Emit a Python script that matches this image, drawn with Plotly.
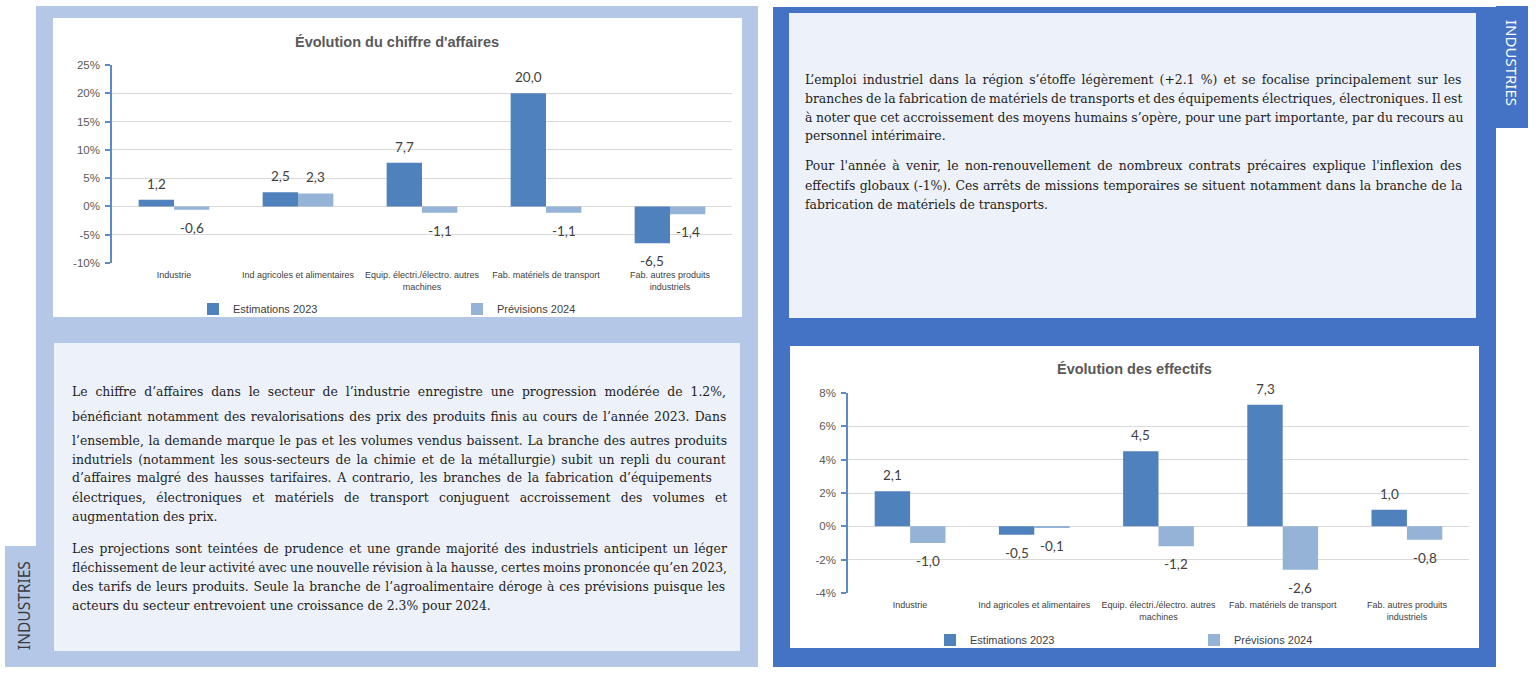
import plotly.graph_objects as go

W, H = 1536, 674

# ---------------- data ----------------
categories = [
    "Industrie",
    "Ind agricoles et alimentaires",
    "Equip. électri./électro. autres<br>machines",
    "Fab. matériels de transport",
    "Fab. autres produits<br>industriels",
]
series_names = ["Estimations 2023", "Prévisions 2024"]

ca_est_2023 = [1.2, 2.5, 7.7, 20.0, -6.5]
ca_prev_2024 = [-0.6, 2.3, -1.1, -1.1, -1.4]

eff_est_2023 = [2.1, -0.5, 4.5, 7.3, 1.0]
eff_prev_2024 = [-1.0, -0.1, -1.2, -2.6, -0.8]

ca_ticks = [-10, -5, 0, 5, 10, 15, 20, 25]
eff_ticks = [-4, -2, 0, 2, 4, 6, 8]

title_ca = "Évolution du chiffre d'affaires"
title_eff = "Évolution des effectifs"
side_label = "INDUSTRIES"

left_para1 = [
    "Le chiffre d’affaires dans le secteur de l’industrie enregistre une progression modérée de 1.2%,",
    "bénéficiant notamment des revalorisations des prix des produits finis au cours de l’année 2023. Dans",
    "l’ensemble, la demande marque le pas et les volumes vendus baissent. La branche des autres produits",
    "indutriels (notamment les sous-secteurs de la chimie et de la métallurgie) subit un repli du courant",
    "d’affaires malgré des hausses tarifaires. A contrario, les branches de la fabrication d’équipements",
    "électriques, électroniques et matériels de transport conjuguent accroissement des volumes et",
    "augmentation des prix.",
]
left_para2 = [
    "Les projections sont teintées de prudence et une grande majorité des industriels anticipent un léger",
    "fléchissement de leur activité avec une nouvelle révision à la hausse, certes moins prononcée qu’en 2023,",
    "des tarifs de leurs produits. Seule la branche de l’agroalimentaire déroge à ces prévisions puisque les",
    "acteurs du secteur entrevoient une croissance de 2.3% pour 2024.",
]
right_para1 = [
    "L’emploi industriel dans la région s’étoffe légèrement (+2.1 %) et se focalise principalement sur les",
    "branches de la fabrication de matériels de transports et des équipements électriques, électroniques. Il est",
    "à noter que cet accroissement des moyens humains s’opère, pour une part importante, par du recours au",
    "personnel intérimaire.",
]
right_para2 = [
    "Pour l'année à venir, le non-renouvellement de nombreux contrats précaires explique l'inflexion des",
    "effectifs globaux (-1%). Ces arrêts de missions temporaires se situent notamment dans la branche de la",
    "fabrication de matériels de transports.",
]

# ---------------- style ----------------
DARK = "#4f81bd"
LIGHT = "#95b3d7"
AXIS = "#5b8bc3"
GRID = "#d9d9d9"
ARIAL = "Liberation Sans, Arial, sans-serif"
SERIF = "DejaVu Serif, serif"
LABEL_FONT = "Lato, Carlito, sans-serif"
PANEL_LIGHT = "#b4c7e7"
PANEL_DARK = "#4472c4"
TEXTBOX = "#edf1f9"

# word spacing (px) used to justify each paragraph line
ws_left1 = [3.93, 1.21, 0.67, 1.93, 1.83, 6.4, 0]
ws_left2 = [1.64, -0.8, 0.73, 0]
ws_right1 = [2.2, -0.8, -0.3, 0]
ws_right2 = [2.44, 0.4, 0]


def px(x):
    return x / W


def py(y):
    return 1 - y / H


def fmt(v):
    return f"{v:.1f}".replace(".", ",")


fig = go.Figure()

charts = [
    dict(xa="x", ya="y", leg="legend", data=[ca_est_2023, ca_prev_2024]),
    dict(xa="x2", ya="y2", leg="legend2", data=[eff_est_2023, eff_prev_2024]),
]
colors = [DARK, LIGHT]
for ch in charts:
    for name, vals, col in zip(series_names, ch["data"], colors):
        fig.add_trace(go.Bar(
            x=categories, y=vals, name=name, marker_color=col,
            marker_line_width=0, xaxis=ch["xa"], yaxis=ch["ya"],
            legend=ch["leg"], hoverinfo="skip",
        ))

# ---------------- background shapes ----------------
def rect(x0, y0, x1, y1, color):
    return dict(type="rect", xref="paper", yref="paper",
                x0=px(x0), x1=px(x1), y0=py(y1), y1=py(y0),
                fillcolor=color, line_width=0, layer="below")

shapes = [
    rect(36, 6, 758, 667, PANEL_LIGHT),
    rect(5, 546, 37, 667, PANEL_LIGHT),
    rect(53, 18, 742, 317, "white"),
    rect(54, 343, 740, 651, TEXTBOX),
    rect(773, 7, 1496, 667, PANEL_DARK),
    rect(1496, 6, 1528, 128, PANEL_DARK),
    rect(789, 13, 1476, 318, TEXTBOX),
    rect(790, 346, 1479, 648, "white"),
]

annotations = []

# titles
annotations.append(dict(text=f"<b>{title_ca}</b>", xref="paper", yref="paper",
                        x=px(397), y=py(42), showarrow=False, xanchor="center", yanchor="middle",
                        font=dict(family=ARIAL, size=14.5, color="#595959")))
annotations.append(dict(text=f"<b>{title_eff}</b>", xref="paper", yref="paper",
                        x=px(1134), y=py(369), showarrow=False, xanchor="center", yanchor="middle",
                        font=dict(family=ARIAL, size=14.5, color="#595959")))

# data labels
BAR_SHIFT = 17.7
for ch in charts:
    for k, vals in enumerate(ch["data"]):
        for cat, v in zip(categories, vals):
            annotations.append(dict(
                text=fmt(v), x=cat, y=v, xref=ch["xa"], yref=ch["ya"],
                xshift=(-BAR_SHIFT if k == 0 else BAR_SHIFT),
                yshift=(16 if v >= 0 else -18), showarrow=False,
                xanchor="center", yanchor="middle",
                font=dict(family=LABEL_FONT, size=13.5, color="#404040")))

# side labels
annotations.append(dict(text=side_label, xref="paper", yref="paper", x=px(24), y=py(606),
                        textangle=-90, showarrow=False, xanchor="center", yanchor="middle",
                        font=dict(family="Noto Sans, sans-serif", size=15.5, color="#3a3a3a")))
annotations.append(dict(text=side_label, xref="paper", yref="paper", x=px(1512), y=py(63),
                        textangle=90, showarrow=False, xanchor="center", yanchor="middle",
                        font=dict(family="Noto Sans, sans-serif", size=15, color="white")))

# paragraphs
def add_lines(lines, x, ys, spacings):
    for line, y, ws in zip(lines, ys, spacings):
        txt = f'<span style="word-spacing:{ws}px">{line}</span>' if ws else line
        annotations.append(dict(text=txt, xref="paper", yref="paper", x=px(x), y=py(y),
                                showarrow=False, xanchor="left", yanchor="middle",
                                font=dict(family=SERIF, size=12.4, color="#1e1e1e")))

add_lines(left_para1, 70, [391, 416, 440, 459, 478, 497, 516], ws_left1)
add_lines(left_para2, 70, [548 + 19 * i for i in range(len(left_para2))], ws_left2)
add_lines(right_para1, 803, [79 + 19 * i for i in range(len(right_para1))], ws_right1)
add_lines(right_para2, 803, [166 + 19 * i for i in range(len(right_para2))], ws_right2)

# ---------------- axes ----------------
def xaxis(d0, d1, anchor):
    return dict(domain=[px(d0), px(d1)], anchor=anchor, type="category",
                showgrid=False, zeroline=False, showline=False, ticks="",
                ticklabelstandoff=5,
                tickfont=dict(family=ARIAL, size=9, color="#404040"), fixedrange=True)


def yaxis(d_top, d_bot, anchor, rng, ticks):
    return dict(domain=[py(d_bot), py(d_top)], anchor=anchor, range=rng,
                tickvals=ticks, ticktext=[f"{t}%" for t in ticks],
                showgrid=True, gridcolor=GRID, gridwidth=1,
                zeroline=True, zerolinecolor=GRID, zerolinewidth=1,
                showline=True, linecolor=AXIS, linewidth=1.5,
                ticks="outside", ticklen=5, tickcolor=AXIS, tickwidth=1.5,
                ticklabelstandoff=3,
                tickfont=dict(family=ARIAL, size=11.5, color="#595959"), fixedrange=True)


def legend(x, y):
    return dict(orientation="h", x=px(x), y=py(y), xanchor="left", yanchor="middle",
                entrywidth=219, entrywidthmode="pixels", bgcolor="rgba(0,0,0,0)",
                font=dict(family=ARIAL, size=11, color="#404040"),
                itemclick=False, itemdoubleclick=False, traceorder="normal")


fig.update_layout(
    width=W, height=H,
    margin=dict(l=0, r=0, t=0, b=0, autoexpand=False),
    paper_bgcolor="white", plot_bgcolor="rgba(0,0,0,0)",
    barmode="group", bargap=0.43, bargroupgap=0,
    xaxis=xaxis(112, 732, "y"),
    yaxis=yaxis(65, 263, "x", [-10, 25], ca_ticks),
    xaxis2=xaxis(848, 1469, "y2"),
    yaxis2=yaxis(393, 593, "x2", [-4, 8], eff_ticks),
    legend=legend(193, 309),
    legend2=legend(930, 640),
    shapes=shapes,
    annotations=annotations,
    showlegend=True,
)

fig.write_html("out.html")
